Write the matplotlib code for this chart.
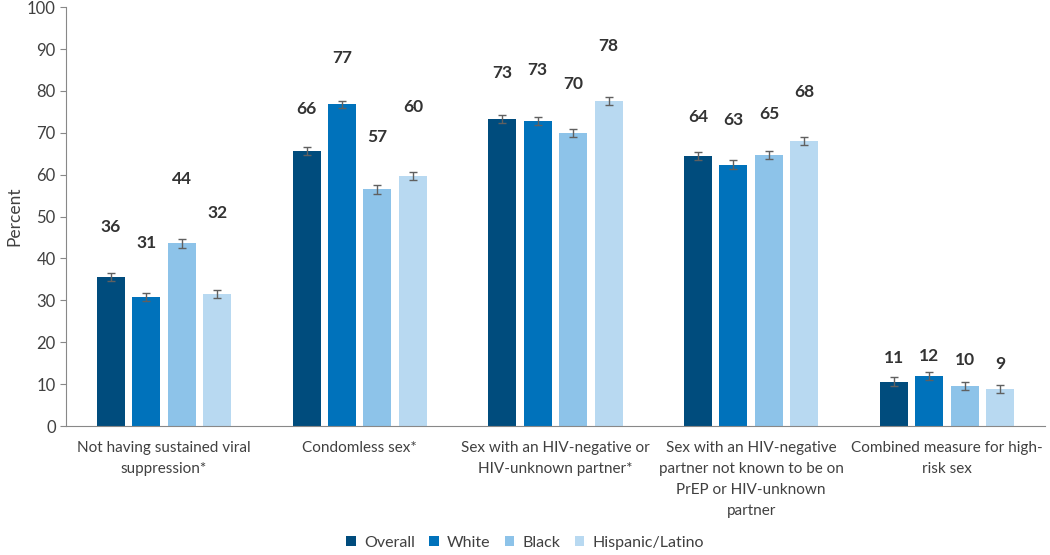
import matplotlib
matplotlib.use("Agg")
import matplotlib.pyplot as plt
import numpy as np

plt.rcParams['font.family'] = ['Lato', 'DejaVu Sans']

categories = ["Not having sustained viral\nsuppression*",
              "Condomless sex*",
              "Sex with an HIV-negative or\nHIV-unknown partner*",
              "Sex with an HIV-negative\npartner not known to be on\nPrEP or HIV-unknown\npartner",
              "Combined measure for high-\nrisk sex"]
series = ["Overall", "White", "Black", "Hispanic/Latino"]
values = {
    "Overall":         [35.6, 65.7, 73.3, 64.4, 10.6],
    "White":           [30.8, 76.8, 72.9, 62.4, 11.9],
    "Black":           [43.6, 56.5, 69.9, 64.7, 9.5],
    "Hispanic/Latino": [31.5, 59.7, 77.6, 68.0, 8.8],
}
errors = {
    "Overall":         [1.0, 1.0, 1.0, 1.0, 1.0],
    "White":           [1.0, 0.8, 1.0, 1.0, 1.0],
    "Black":           [1.0, 1.0, 1.0, 1.0, 1.0],
    "Hispanic/Latino": [1.0, 1.0, 1.0, 1.0, 1.0],
}
labels = {
    "Overall":         ["36", "66", "73", "64", "11"],
    "White":           ["31", "77", "73", "63", "12"],
    "Black":           ["44", "57", "70", "65", "10"],
    "Hispanic/Latino": ["32", "60", "78", "68", "9"],
}
# label heights (data units) as placed in the reference
label_pos = {
    "Overall":         [47.6, 75.6, 84.2, 73.7, 16.2],
    "White":           [43.6, 87.8, 85.0, 73.0, 16.7],
    "Black":           [58.9, 69.0, 81.6, 74.6, 15.8],
    "Hispanic/Latino": [50.9, 76.1, 90.8, 79.8, 14.7],
}
colors = ["#004C7D", "#0072BB", "#8DC3E9", "#B8D9F1"]

fig = plt.figure(figsize=(10.5, 5.55), dpi=100)
ax = fig.add_axes([0.063, 0.2324, 0.932, 0.7546])

x = np.arange(len(categories))
width = 0.143
step = 0.181
for i, s in enumerate(series):
    xs = x + (i - 1.5) * step
    ax.bar(xs, values[s], width=width, color=colors[i], label=s, zorder=2)
    ax.errorbar(xs, values[s], yerr=errors[s], fmt='none', ecolor='#606060',
                elinewidth=1, capsize=3, capthick=1, zorder=3)
    for xi, ly, t in zip(xs, label_pos[s], labels[s]):
        ax.text(xi, ly, t, ha='center', va='center', fontsize=12.5,
                fontweight='bold', color='#333333')

ax.set_xlim(-0.5, len(categories) - 0.5)
ax.set_ylim(0, 100)
ax.set_yticks(np.arange(0, 101, 10))
ax.set_xticks(x)
ax.set_xticklabels(categories, fontsize=11, color='#404040', linespacing=1.62, va='top')
ax.tick_params(axis='x', length=0, pad=11)
ax.tick_params(axis='y', labelsize=12, colors='#404040', length=4, color='#888888')
for sp in ['top', 'right']:
    ax.spines[sp].set_visible(False)
ax.spines['left'].set_color('#888888')
ax.spines['bottom'].set_color('#888888')
ax.set_ylabel("Percent", fontsize=12.5, color='#404040', labelpad=3)

leg = fig.legend(loc='center', bbox_to_anchor=(0.5, 0.022), ncol=4, frameon=False,
                 fontsize=11.5, handlelength=0.6, handleheight=0.6, handletextpad=0.5,
                 columnspacing=0.9)
for t in leg.get_texts():
    t.set_color('#404040')

fig.savefig("out.png", dpi=100)
